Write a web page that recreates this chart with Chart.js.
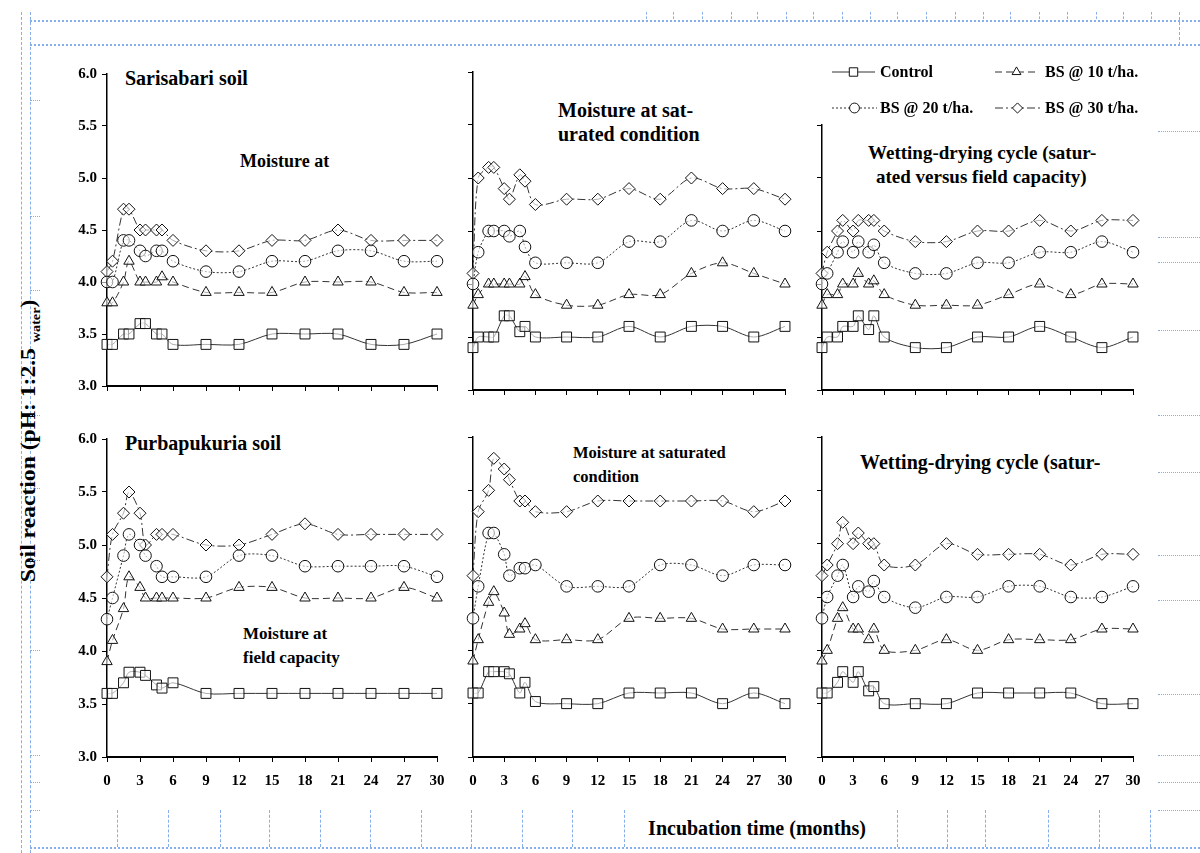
<!DOCTYPE html>
<html>
<head>
<meta charset="utf-8">
<script src="https://cdn.jsdelivr.net/npm/chart.js@4.4.1/dist/chart.umd.min.js"></script>
<style>
  body { margin: 0; background: #fff; }
  #page {
    position: relative; width: 1200px; height: 853px; overflow: hidden; background: #fff;
    font-family: "Liberation Serif", "Times New Roman", serif; font-weight: bold; color: #000;
  }
  #page canvas { position: absolute; }
  .note { position: absolute; white-space: nowrap; line-height: 24px; }
  #ytitle {
    position: absolute; left: -168px; top: 424px; width: 400px; text-align: center;
    font-size: 20px; line-height: 26px; transform: rotate(-90deg) scaleX(1.18);
  }
  #ytitle .sub { font-size: 12px; vertical-align: -5px; }
  #xtitle { position: absolute; left: 557px; top: 815px; width: 400px; text-align: center; font-size: 20px; line-height: 26px; }
  .bh { position: absolute; height: 0; border-top: 2px dotted #86aeea; }
  .bv { position: absolute; width: 0; border-left: 1px dashed #86aeea; }
</style>
</head>
<body>
<div id="page">
  <div class="bv" style="left:21px;top:12px;height:841px"></div>
  <div class="bv" style="left:30px;top:12px;height:841px"></div>
  <div class="bh" style="left:30px;top:20px;width:1170px"></div>
  <div class="bh" style="left:30px;top:44px;width:1170px"></div>
  <div class="bv" style="left:1179px;top:12px;height:33px"></div>
  <div class="bh" style="left:30px;top:847px;width:1170px"></div>

  <div class="note" style="left:125px;top:66px;font-size:20px">Sarisabari soil</div>
  <div class="note" style="left:240px;top:149px;font-size:18px">Moisture at</div>
  <div class="note" style="left:558px;top:98px;font-size:20px">Moisture at sat-</div>
  <div class="note" style="left:558px;top:122px;font-size:20px">urated condition</div>
  <div class="note" style="left:868px;top:141px;font-size:19px">Wetting-drying cycle (satur-</div>
  <div class="note" style="left:876px;top:165px;font-size:19px">ated versus field capacity)</div>

  <div class="note" style="left:125px;top:431px;font-size:20px">Purbapukuria soil</div>
  <div class="note" style="left:243px;top:622px;font-size:17px">Moisture at</div>
  <div class="note" style="left:243px;top:646px;font-size:17px">field capacity</div>
  <div class="note" style="left:573px;top:441px;font-size:16.5px">Moisture at saturated</div>
  <div class="note" style="left:573px;top:465px;font-size:16.5px">condition</div>
  <div class="note" style="left:860px;top:450px;font-size:20px">Wetting-drying cycle (satur-</div>

  <div id="ytitle">Soil reaction (pH: 1:2.5 <span class="sub">water</span>)</div>
  <div id="xtitle">Incubation time (months)</div>
</div>

<script>
// sampling times (months) and axis ticks
const months = [0, 0.5, 1.5, 2, 3, 3.5, 4.5, 5, 6, 9, 12, 15, 18, 21, 24, 27, 30];
const monthTicks = [0, 3, 6, 9, 12, 15, 18, 21, 24, 27, 30];
const phTicks = [3.0, 3.5, 4.0, 4.5, 5.0, 5.5, 6.0];
const treatments = ['Control', 'BS @ 10 t/ha.', 'BS @ 20 t/ha.', 'BS @ 30 t/ha.'];

// Sarisabari soil - field capacity
const sariFcControl = [3.4, 3.4, 3.5, 3.5, 3.6, 3.6, 3.5, 3.5, 3.4, 3.4, 3.4, 3.5, 3.5, 3.5, 3.4, 3.4, 3.5];
const sariFcBs10    = [3.8, 3.8, 4.0, 4.2, 4.0, 4.0, 4.0, 4.05, 4.0, 3.9, 3.9, 3.9, 4.0, 4.0, 4.0, 3.9, 3.9];
const sariFcBs20    = [4.0, 4.0, 4.4, 4.4, 4.3, 4.25, 4.3, 4.3, 4.2, 4.1, 4.1, 4.2, 4.2, 4.3, 4.3, 4.2, 4.2];
const sariFcBs30    = [4.1, 4.2, 4.7, 4.7, 4.5, 4.5, 4.5, 4.5, 4.4, 4.3, 4.3, 4.4, 4.4, 4.5, 4.4, 4.4, 4.4];
// Sarisabari soil - saturated
const sariSatControl = [3.4, 3.5, 3.5, 3.5, 3.7, 3.7, 3.55, 3.6, 3.5, 3.5, 3.5, 3.6, 3.5, 3.6, 3.6, 3.5, 3.6];
const sariSatBs10    = [3.8, 3.9, 4.0, 4.0, 4.0, 4.0, 4.0, 4.07, 3.9, 3.8, 3.8, 3.9, 3.9, 4.1, 4.2, 4.1, 4.0];
const sariSatBs20    = [4.0, 4.3, 4.5, 4.5, 4.5, 4.45, 4.5, 4.35, 4.2, 4.2, 4.2, 4.4, 4.4, 4.6, 4.5, 4.6, 4.5];
const sariSatBs30    = [4.1, 5.0, 5.1, 5.1, 4.9, 4.8, 5.03, 4.97, 4.75, 4.8, 4.8, 4.9, 4.8, 5.0, 4.9, 4.9, 4.8];
// Sarisabari soil - wetting-drying
const sariWdControl = [3.4, 3.5, 3.5, 3.6, 3.6, 3.7, 3.57, 3.7, 3.5, 3.4, 3.4, 3.5, 3.5, 3.6, 3.5, 3.4, 3.5];
const sariWdBs10    = [3.8, 3.9, 3.9, 4.0, 4.0, 4.1, 4.0, 4.03, 3.9, 3.8, 3.8, 3.8, 3.9, 4.0, 3.9, 4.0, 4.0];
const sariWdBs20    = [4.0, 4.1, 4.3, 4.4, 4.3, 4.4, 4.3, 4.37, 4.2, 4.1, 4.1, 4.2, 4.2, 4.3, 4.3, 4.4, 4.3];
const sariWdBs30    = [4.1, 4.3, 4.5, 4.6, 4.5, 4.6, 4.6, 4.6, 4.5, 4.4, 4.4, 4.5, 4.5, 4.6, 4.5, 4.6, 4.6];

// Purbapukuria soil - field capacity
const purbFcControl = [3.6, 3.6, 3.7, 3.8, 3.8, 3.77, 3.68, 3.65, 3.7, 3.6, 3.6, 3.6, 3.6, 3.6, 3.6, 3.6, 3.6];
const purbFcBs10    = [3.9, 4.1, 4.4, 4.7, 4.6, 4.5, 4.5, 4.5, 4.5, 4.5, 4.6, 4.6, 4.5, 4.5, 4.5, 4.6, 4.5];
const purbFcBs20    = [4.3, 4.5, 4.9, 5.1, 5.0, 4.9, 4.8, 4.7, 4.7, 4.7, 4.9, 4.9, 4.8, 4.8, 4.8, 4.8, 4.7];
const purbFcBs30    = [4.7, 5.1, 5.3, 5.5, 5.3, 5.0, 5.1, 5.1, 5.1, 5.0, 5.0, 5.1, 5.2, 5.1, 5.1, 5.1, 5.1];
// Purbapukuria soil - saturated
const purbSatControl = [3.6, 3.6, 3.8, 3.8, 3.8, 3.78, 3.6, 3.7, 3.52, 3.5, 3.5, 3.6, 3.6, 3.6, 3.5, 3.6, 3.5];
const purbSatBs10    = [3.9, 4.1, 4.45, 4.55, 4.35, 4.15, 4.2, 4.25, 4.1, 4.1, 4.1, 4.3, 4.3, 4.3, 4.2, 4.2, 4.2];
const purbSatBs20    = [4.3, 4.6, 5.1, 5.1, 4.9, 4.7, 4.77, 4.77, 4.8, 4.6, 4.6, 4.6, 4.8, 4.8, 4.7, 4.8, 4.8];
const purbSatBs30    = [4.7, 5.3, 5.5, 5.8, 5.7, 5.6, 5.4, 5.4, 5.3, 5.3, 5.4, 5.4, 5.4, 5.4, 5.4, 5.3, 5.4];
// Purbapukuria soil - wetting-drying
const purbWdControl = [3.6, 3.6, 3.7, 3.8, 3.7, 3.8, 3.62, 3.66, 3.5, 3.5, 3.5, 3.6, 3.6, 3.6, 3.6, 3.5, 3.5];
const purbWdBs10    = [3.9, 4.0, 4.3, 4.4, 4.2, 4.2, 4.1, 4.2, 4.0, 4.0, 4.1, 4.0, 4.1, 4.1, 4.1, 4.2, 4.2];
const purbWdBs20    = [4.3, 4.5, 4.7, 4.8, 4.5, 4.6, 4.55, 4.65, 4.5, 4.4, 4.5, 4.5, 4.6, 4.6, 4.5, 4.5, 4.6];
const purbWdBs30    = [4.7, 4.8, 5.0, 5.2, 5.0, 5.1, 5.0, 5.0, 4.8, 4.8, 5.0, 4.9, 4.9, 4.9, 4.8, 4.9, 4.9];

// marker / line look per treatment
const looks = [
  { pointStyle: 'rect', pointRadius: 7, borderDash: [] },
  { pointStyle: 'triangle', pointRadius: 6, borderDash: [7, 4] },
  { pointStyle: 'circle', pointRadius: 5.8, borderDash: [2, 2] },
  { pointStyle: 'rectRot', pointRadius: 6, borderDash: [8, 3, 2, 3] },
];

const Y_AXIS_W = 50;
const PAD_R = 22;
const tickFont = { family: 'Liberation Serif', weight: 'bold', size: 15 };

// plot areas in page pixels: [left, right, top, bottom]
const panels = [
  { area: [107, 437, 72, 390], yMax: 6, yLabels: true, xLabels: false, series: [sariFcControl, sariFcBs10, sariFcBs20, sariFcBs30] },
  { area: [473, 785, 72, 390], yMax: 6, yLabels: false, xLabels: false, series: [sariSatControl, sariSatBs10, sariSatBs20, sariSatBs30] },
  { area: [822, 1133, 125, 390], yMax: 5.5, yLabels: false, xLabels: false, canvasTop: 55, legend: true, series: [sariWdControl, sariWdBs10, sariWdBs20, sariWdBs30] },
  { area: [107, 437, 437, 757], yMax: 6, yLabels: true, xLabels: true, series: [purbFcControl, purbFcBs10, purbFcBs20, purbFcBs30] },
  { area: [473, 785, 437, 757], yMax: 6, yLabels: false, xLabels: true, series: [purbSatControl, purbSatBs10, purbSatBs20, purbSatBs30] },
  { area: [822, 1133, 437, 757], yMax: 6, yLabels: false, xLabels: true, series: [purbWdControl, purbWdBs10, purbWdBs20, purbWdBs30] },
];

// legend spots in page pixels
const legendSpots = [
  { x0: 832, x1: 875, y: 72, tx: 880 },
  { x0: 995, x1: 1038, y: 72, tx: 1045 },
  { x0: 832, x1: 877, y: 108, tx: 880 },
  { x0: 995, x1: 1040, y: 108, tx: 1045 },
];

const sideLegend = {
  id: 'sideLegend',
  afterDraw(chart, args, opts) {
    const ctx = chart.ctx;
    chart.data.datasets.forEach((ds, i) => {
      const s = opts.spots[i];
      const x0 = s.x0 - opts.ox, x1 = s.x1 - opts.ox, y = s.y - opts.oy;
      ctx.save();
      ctx.strokeStyle = ds.borderColor;
      ctx.lineWidth = ds.borderWidth;
      ctx.setLineDash(ds.borderDash);
      ctx.beginPath();
      ctx.moveTo(x0, y);
      ctx.lineTo(x1, y);
      ctx.stroke();
      ctx.setLineDash([]);
      ctx.fillStyle = '#fff';
      ctx.strokeStyle = ds.pointBorderColor;
      ctx.lineWidth = 1;
      Chart.helpers.drawPoint(ctx, { pointStyle: ds.pointStyle, radius: ds.pointRadius * 0.85, borderWidth: 1, rotation: 0 }, (x0 + x1) / 2, y);
      ctx.fillStyle = '#000';
      ctx.font = 'bold 16px "Liberation Serif"';
      ctx.textBaseline = 'middle';
      ctx.fillText(ds.label, s.tx - opts.ox, y + 1);
      ctx.restore();
    });
  }
};

const page = document.getElementById('page');

panels.forEach(p => {
  const [left, right, top, bottom] = p.area;
  const xAxisH = p.xLabels ? 40 : 10;
  const canvasTop = p.canvasTop ?? top - 12;
  const canvasLeft = left - Y_AXIS_W;
  const w = right - left + Y_AXIS_W + PAD_R;
  const h = bottom - canvasTop + xAxisH;

  const canvas = document.createElement('canvas');
  canvas.width = w;
  canvas.height = h;
  canvas.style.left = canvasLeft + 'px';
  canvas.style.top = canvasTop + 'px';
  canvas.style.width = w + 'px';
  canvas.style.height = h + 'px';
  page.appendChild(canvas);

  const datasets = p.series.map((vals, i) => ({
    label: treatments[i],
    data: months.map((m, k) => ({ x: m, y: vals[k] })),
    borderColor: '#333',
    borderWidth: 1,
    borderDash: looks[i].borderDash,
    pointStyle: looks[i].pointStyle,
    pointRadius: looks[i].pointRadius,
    pointBackgroundColor: 'rgba(255,255,255,0.6)',
    pointBorderColor: '#111',
    pointBorderWidth: 1,
    tension: 0.3,
    fill: false,
    clip: false,
  }));

  new Chart(canvas, {
    type: 'line',
    data: { datasets },
    plugins: p.legend ? [sideLegend] : [],
    options: {
      responsive: false,
      animation: false,
      devicePixelRatio: 1,
      layout: { padding: { top: top - canvasTop, right: PAD_R, left: 0, bottom: 0 } },
      plugins: {
        legend: { display: false },
        tooltip: { enabled: false },
        sideLegend: { spots: legendSpots, ox: canvasLeft, oy: canvasTop },
      },
      scales: {
        x: {
          type: 'linear', min: 0, max: 30,
          afterBuildTicks: s => { s.ticks = monthTicks.map(v => ({ value: v })); },
          afterFit: s => { s.height = xAxisH; },
          grid: { display: true, drawOnChartArea: false, drawTicks: true, tickLength: 5, color: '#000', lineWidth: 1 },
          border: { display: true, color: '#000', width: 2 },
          ticks: { display: p.xLabels, font: tickFont, color: '#000', padding: 10, maxRotation: 0, autoSkip: false },
        },
        y: {
          type: 'linear', min: 3, max: p.yMax,
          afterBuildTicks: s => { s.ticks = phTicks.filter(v => v <= p.yMax).map(v => ({ value: v })); },
          afterFit: s => { s.width = Y_AXIS_W; },
          grid: { display: true, drawOnChartArea: false, drawTicks: true, tickLength: 5, color: '#000', lineWidth: 1 },
          border: { display: true, color: '#000', width: 1.5 },
          ticks: { display: p.yLabels, font: tickFont, color: '#000', padding: 5, callback: v => v.toFixed(1) },
        },
      },
    },
  });
});

// word-layout ruler marks along the top and bottom
[646, 673, 702, 731, 757, 786, 813, 842, 870, 897, 926, 955, 983, 1010, 1039, 1067, 1096, 1123, 1151].forEach(x => {
  const d = document.createElement('div');
  d.className = 'bv';
  d.style.cssText = `left:${x}px;top:12px;height:7px`;
  page.appendChild(d);
});
[117, 168, 220, 269, 320, 370, 421, 471, 522, 572, 624, 897, 947, 985, 1048, 1099, 1150].forEach(x => {
  const d = document.createElement('div');
  d.className = 'bv';
  d.style.cssText = `left:${x}px;top:810px;height:37px`;
  page.appendChild(d);
});
[131, 237, 262, 330, 415, 472, 555, 600, 694, 755, 782, 810].forEach(y => {
  const d = document.createElement('div');
  d.className = 'bh';
  d.style.cssText = `left:1158px;top:${y}px;width:42px;border-top-width:1px`;
  page.appendChild(d);
});
[100, 216, 290, 415, 488, 560, 650, 755, 782, 810].forEach(y => {
  const d = document.createElement('div');
  d.className = 'bh';
  d.style.cssText = `left:30px;top:${y}px;width:10px;border-top-width:1px`;
  page.appendChild(d);
});
</script>
</body>
</html>
